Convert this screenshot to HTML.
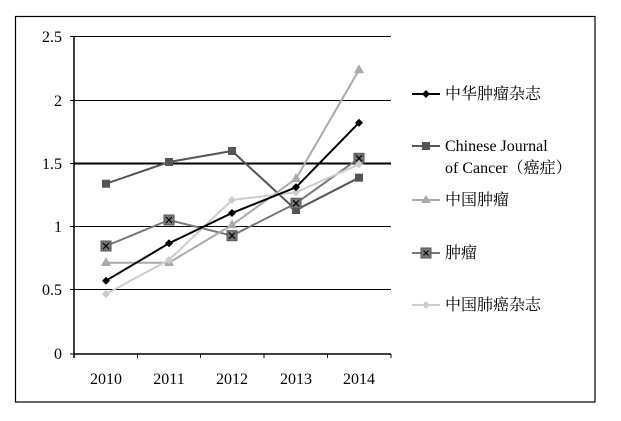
<!DOCTYPE html>
<html><head><meta charset="utf-8"><style>
html,body{margin:0;padding:0;background:#fff;}
svg text{font-family:"Liberation Serif","Noto Serif CJK SC",serif;}
</style></head><body>
<svg width="621" height="416" viewBox="0 0 621 416" xmlns="http://www.w3.org/2000/svg">
<rect x="15.5" y="16.5" width="579.5" height="385.5" fill="#fff" stroke="#000" stroke-width="1.2"/>
<g stroke="#000" stroke-width="1">
<line x1="74" y1="36.5" x2="391" y2="36.5"/>
<line x1="74" y1="100.5" x2="391" y2="100.5"/>
<line x1="74" y1="163.5" x2="391" y2="163.5" stroke-width="2"/>
<line x1="74" y1="226.5" x2="391" y2="226.5"/>
<line x1="74" y1="289.5" x2="391" y2="289.5"/>
<line x1="74" y1="354" x2="391" y2="354" stroke-width="1.5"/>
<line x1="74" y1="36" x2="74" y2="358" stroke-width="1.5"/>
<line x1="70" y1="36.5" x2="74" y2="36.5"/><line x1="70" y1="100.5" x2="74" y2="100.5"/><line x1="70" y1="163.5" x2="74" y2="163.5"/><line x1="70" y1="226.5" x2="74" y2="226.5"/><line x1="70" y1="289.5" x2="74" y2="289.5"/><line x1="70" y1="354" x2="74" y2="354"/>
<line x1="137.5" y1="354" x2="137.5" y2="358"/><line x1="200.5" y1="354" x2="200.5" y2="358"/><line x1="264" y1="354" x2="264" y2="358"/><line x1="327.5" y1="354" x2="327.5" y2="358"/><line x1="391" y1="354" x2="391" y2="358"/>
</g>
<g font-size="16" text-anchor="end" fill="#000">
<text x="62" y="42">2.5</text><text x="62" y="106">2</text><text x="62" y="169">1.5</text><text x="62" y="232">1</text><text x="62" y="295">0.5</text><text x="62" y="359">0</text>
</g>
<g font-size="16" text-anchor="middle" fill="#000">
<text x="106" y="384">2010</text><text x="169" y="384">2011</text><text x="232" y="384">2012</text><text x="296" y="384">2013</text><text x="359" y="384">2014</text>
</g>
<polyline points="106,183.7 169,162 232,151 296,210 359,177.7" fill="none" stroke="#555" stroke-width="2"/>
<g fill="#555"><rect x="102" y="179.7" width="8" height="8"/><rect x="165" y="158" width="8" height="8"/><rect x="228" y="147" width="8" height="8"/><rect x="292" y="206" width="8" height="8"/><rect x="355" y="173.7" width="8" height="8"/></g>
<polyline points="106,246 169,220 232,235.7 296,203.3 359,158.3" fill="none" stroke="#777" stroke-width="2"/>
<g fill="#777" stroke="#555"><rect x="101" y="241" width="10" height="10"/><rect x="164" y="215" width="10" height="10"/><rect x="227" y="230.7" width="10" height="10"/><rect x="291" y="198.3" width="10" height="10"/><rect x="354" y="153.3" width="10" height="10"/></g>
<g stroke="#000" stroke-width="1.2">
<path d="M103,243l6,6M109,243l-6,6"/><path d="M166,217l6,6M172,217l-6,6"/><path d="M229,232.7l6,6M235,232.7l-6,6"/><path d="M293,200.3l6,6M299,200.3l-6,6"/><path d="M356,155.3l6,6M362,155.3l-6,6"/>
</g>
<polyline points="106,262.7 169,262.7 232,225 296,178.7 359,70" fill="none" stroke="#aaa" stroke-width="2"/>
<g fill="#aaa"><path d="M106,257l5,9h-10z"/><path d="M169,257l5,9h-10z"/><path d="M232,219.3l5,9h-10z"/><path d="M296,173l5,9h-10z"/><path d="M359,64.3l5,9h-10z"/></g>
<polyline points="106,294 169,260 232,200 296,192.3 359,164.3" fill="none" stroke="#ccc" stroke-width="2"/>
<g fill="#ccc"><path d="M106,290l4,4-4,4-4-4z"/><path d="M169,256l4,4-4,4-4-4z"/><path d="M232,196l4,4-4,4-4-4z"/><path d="M296,188.3l4,4-4,4-4-4z"/><path d="M359,160.3l4,4-4,4-4-4z"/></g>
<polyline points="106,280.7 169,243.3 232,213 296,187.3 359,122.7" fill="none" stroke="#000" stroke-width="2"/>
<g fill="#000"><path d="M106,276.7l4,4-4,4-4-4z"/><path d="M169,239.3l4,4-4,4-4-4z"/><path d="M232,209l4,4-4,4-4-4z"/><path d="M296,183.3l4,4-4,4-4-4z"/><path d="M359,118.7l4,4-4,4-4-4z"/></g>
<g font-size="16" fill="#000">
<line x1="412" y1="94" x2="440" y2="94" stroke="#000" stroke-width="2"/><path d="M426,90l4,4-4,4-4-4z" fill="#000"/>
<text x="445" y="99">中华肿瘤杂志</text>
<line x1="412" y1="146" x2="440" y2="146" stroke="#555" stroke-width="2"/><rect x="422" y="142" width="8" height="8" fill="#555"/>
<text x="445" y="151">Chinese Journal</text>
<text x="445" y="173">of Cancer（癌症）</text>
<line x1="412" y1="200" x2="440" y2="200" stroke="#aaa" stroke-width="2"/><path d="M426,195l5,8h-10z" fill="#aaa"/>
<text x="445" y="205">中国肿瘤</text>
<line x1="412" y1="253" x2="440" y2="253" stroke="#777" stroke-width="2"/><rect x="421" y="248" width="10" height="10" fill="#777" stroke="#555"/><path d="M423.5,250.5l5,5M428.5,250.5l-5,5" stroke="#000"/>
<text x="445" y="258">肿瘤</text>
<line x1="412" y1="305" x2="440" y2="305" stroke="#ccc" stroke-width="2"/><path d="M426,301l4,4-4,4-4-4z" fill="#ccc"/>
<text x="445" y="310">中国肺癌杂志</text>
</g>
</svg>
</body></html>
